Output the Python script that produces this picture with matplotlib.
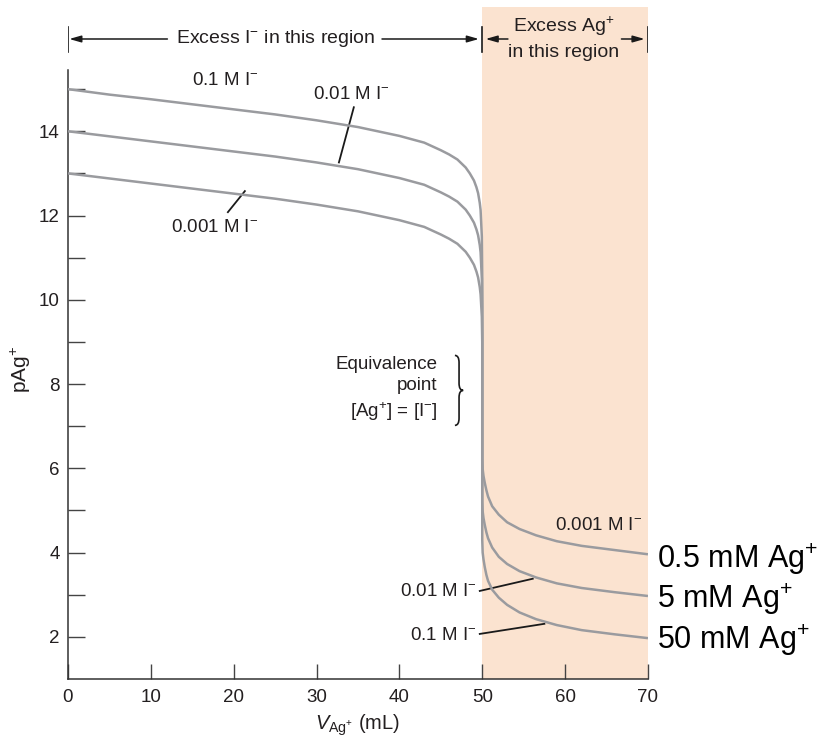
import matplotlib
matplotlib.use("Agg")
import matplotlib.pyplot as plt
from matplotlib.path import Path
from matplotlib.patches import PathPatch

plt.rcParams['font.family'] = ['Liberation Sans', 'DejaVu Sans']
plt.rcParams['mathtext.fontset'] = 'custom'
plt.rcParams['mathtext.rm'] = 'Liberation Sans'
plt.rcParams['mathtext.it'] = 'Liberation Sans:italic'

# volume of Ag+ added (mL), shared by all three curves
vol = [0, 5, 10, 15, 20, 25, 30, 35, 40, 43, 45, 46, 47, 48, 48.5, 49, 49.3, 49.5, 49.7,
       49.8, 49.95, 50,
       50, 50.05, 50.15, 50.3, 50.5, 50.7, 51.2, 52, 53, 54.5, 56.5, 59, 62, 66, 70]
# pAg+
p_01 = [15.0, 14.87, 14.76, 14.64, 14.52, 14.40, 14.26, 14.10, 13.89, 13.73, 13.55, 13.45,
        13.33, 13.14, 13.0, 12.83, 12.67, 12.53, 12.30, 12.13, 11.5, 10.5,
        4.3, 4.0, 3.84, 3.66, 3.47, 3.33, 3.12, 2.93, 2.76, 2.58, 2.42, 2.28, 2.16, 2.06, 1.97]
p_001 = [14.0, 13.88, 13.76, 13.64, 13.52, 13.40, 13.26, 13.10, 12.89, 12.73, 12.55, 12.45,
         12.33, 12.14, 12.0, 11.83, 11.67, 11.53, 11.30, 11.13, 10.5, 9.8,
         5.2, 4.98, 4.82, 4.66, 4.48, 4.34, 4.12, 3.9, 3.73, 3.56, 3.41, 3.27, 3.16, 3.06, 2.97]
p_0001 = [13.0, 12.88, 12.76, 12.64, 12.52, 12.40, 12.26, 12.10, 11.89, 11.73, 11.55, 11.45,
          11.33, 11.14, 11.0, 10.83, 10.67, 10.53, 10.30, 10.13, 9.6, 9.0,
          6.2, 5.98, 5.82, 5.66, 5.48, 5.33, 5.1, 4.9, 4.72, 4.56, 4.41, 4.27, 4.16, 4.06, 3.96]

x_ticks = [0, 10, 20, 30, 40, 50, 60, 70]
y_ticks = [2, 4, 6, 8, 10, 12, 14]
y_minor = [3, 5, 7, 9, 11, 13, 15]
ag_labels = ["0.5 mM Ag$^{+}$", "5 mM Ag$^{+}$", "50 mM Ag$^{+}$"]

txt = '#231f20'
curve_col = '#9a9b9f'

fig = plt.figure(figsize=(8.25, 7.42), dpi=100)
ax = fig.add_axes([0.0824, 0.0849, 0.7030, 0.9057])

ax.axvspan(50, 70, color='#fbe3d0', lw=0, zorder=0)

for p in (p_01, p_001, p_0001):
    ax.plot(vol, p, color=curve_col, lw=1.8, solid_capstyle='butt', zorder=3)

ax.set_xlim(0, 70)
ax.set_ylim(1, 16.95)
ax.spines['top'].set_visible(False)
ax.spines['right'].set_visible(False)
ax.spines['left'].set_bounds(1, 15.45)
for s in ('left', 'bottom'):
    ax.spines[s].set_color('#333333')
    ax.spines[s].set_linewidth(1.1)

ax.set_xticks(x_ticks)
ax.set_yticks(y_ticks)
ax.set_yticks(y_minor, minor=True)
ax.tick_params(which='both', direction='in', length=12, width=1.0, color='#444444',
               labelsize=13.5, labelcolor=txt)
ax.tick_params(axis='x', length=11, pad=7)
ax.tick_params(axis='y', pad=6)

ax.set_xlabel(r"$V_{\mathrm{Ag^{+}}}$ (mL)", fontsize=14.5, color=txt, labelpad=5)
ax.set_ylabel(r"pAg$^{+}$", fontsize=15, color=txt, labelpad=6)
ax.yaxis.set_label_coords(-0.06, 0.46)

# curve labels and leader lines
fs = 13.5
ax.text(19, 15.2, r"0.1 M I$^{-}$", fontsize=fs, color=txt, ha='center', va='center')
ax.text(34.2, 14.88, r"0.01 M I$^{-}$", fontsize=fs, color=txt, ha='center', va='center')
ax.plot([34.5, 32.7], [14.57, 13.26], color='#1a1a1a', lw=1.3)
ax.text(17.7, 11.72, r"0.001 M I$^{-}$", fontsize=fs, color=txt, ha='center', va='center')
ax.plot([19.3, 21.35], [12.08, 12.58], color='#1a1a1a', lw=1.3)

ax.text(69.3, 4.64, r"0.001 M I$^{-}$", fontsize=fs, color=txt, ha='right', va='center')
ax.text(49.3, 3.07, r"0.01 M I$^{-}$", fontsize=fs, color=txt, ha='right', va='center')
ax.plot([49.7, 56.1], [3.09, 3.38], color='#1a1a1a', lw=1.3)
ax.text(49.3, 2.03, r"0.1 M I$^{-}$", fontsize=fs, color=txt, ha='right', va='center')
ax.plot([49.7, 57.5], [2.07, 2.31], color='#1a1a1a', lw=1.3)

# equivalence point note with brace
ax.text(44.6, 7.88, "Equivalence\npoint\n[Ag$^{+}$] = [I$^{-}$]", fontsize=fs, color=txt,
        ha='right', va='center', linespacing=1.35)
bx, bw, yt, yb, ym, r = 46.7, 1.0, 8.68, 7.02, 7.85, 0.17
verts = [(bx, yt), (bx + bw / 2, yt), (bx + bw / 2, yt - r),
         (bx + bw / 2, ym + r), (bx + bw / 2, ym), (bx + bw, ym),
         (bx + bw / 2, ym), (bx + bw / 2, ym - r),
         (bx + bw / 2, yb + r), (bx + bw / 2, yb), (bx, yb)]
codes = [Path.MOVETO, Path.CURVE3, Path.CURVE3, Path.LINETO, Path.CURVE3, Path.CURVE3,
         Path.CURVE3, Path.CURVE3, Path.LINETO, Path.CURVE3, Path.CURVE3]
ax.add_patch(PathPatch(Path(verts, codes), fill=False, ec='#1a1a1a', lw=1.2))

# region markers at the top
ytop = 16.19
for xb in (0, 50, 70):
    ax.plot([xb, xb], [15.88, 16.47], color='#1a1a1a', lw=1.2)
ax.text(25.1, ytop, r"Excess I$^{-}$ in this region", fontsize=14, color=txt,
        ha='center', va='center')
arr = dict(arrowstyle='-|>,head_length=0.7,head_width=0.2', color='#1a1a1a', lw=1.1,
           shrinkA=0, shrinkB=0)
ax.annotate("", xy=(0.15, ytop), xytext=(12.0, ytop), arrowprops=arr)
ax.annotate("", xy=(49.6, ytop), xytext=(37.9, ytop), arrowprops=arr)
ax.annotate("", xy=(50.4, ytop), xytext=(53.1, ytop), arrowprops=arr)
ax.annotate("", xy=(69.6, ytop), xytext=(66.8, ytop), arrowprops=arr)
ax.text(59.8, 16.5, r"Excess Ag$^{+}$", fontsize=14, color=txt, ha='center', va='center')
ax.text(59.8, 15.88, "in this region", fontsize=14, color=txt, ha='center', va='center')

# titrant concentrations at the right
for lab, yb_ in zip(ag_labels, [3.64, 2.69, 1.71]):
    ax.text(71.05, yb_, lab, fontsize=22, color='black', ha='left', va='baseline',
            clip_on=False)

fig.savefig("out.png", dpi=100)
